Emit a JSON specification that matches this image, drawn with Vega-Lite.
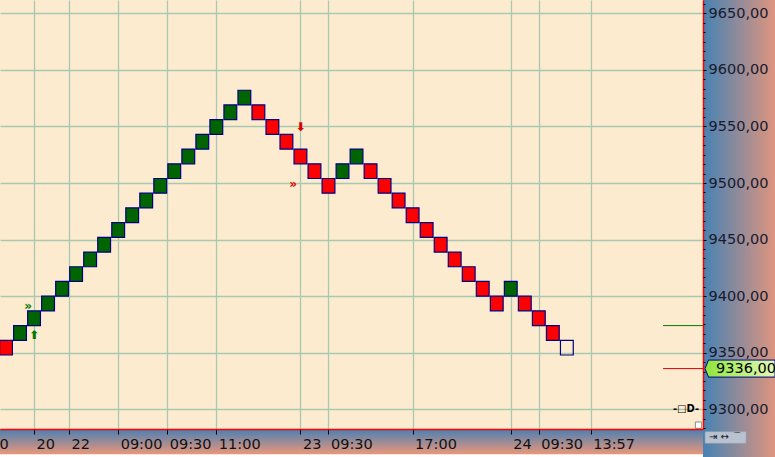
{
  "$schema": "https://vega.github.io/schema/vega-lite/v6.json",
  "width": 703,
  "height": 429,
  "autosize": "none",
  "padding": {"left": 0, "top": 0, "right": 72, "bottom": 28},
  "background": "#ffffff",
  "view": {"fill": "#fdebd0", "stroke": null},
  "config": {"font": "DejaVu Sans"},
  "data": {"values": [{}]},
  "datasets": {
    "bricks": [
      {"i": 0, "lo": 9348, "hi": 9361, "t": "down"},
      {"i": 1, "lo": 9361, "hi": 9374, "t": "up"},
      {"i": 2, "lo": 9374, "hi": 9387, "t": "up"},
      {"i": 3, "lo": 9387, "hi": 9400, "t": "up"},
      {"i": 4, "lo": 9400, "hi": 9413, "t": "up"},
      {"i": 5, "lo": 9413, "hi": 9426, "t": "up"},
      {"i": 6, "lo": 9426, "hi": 9439, "t": "up"},
      {"i": 7, "lo": 9439, "hi": 9452, "t": "up"},
      {"i": 8, "lo": 9452, "hi": 9465, "t": "up"},
      {"i": 9, "lo": 9465, "hi": 9478, "t": "up"},
      {"i": 10, "lo": 9478, "hi": 9491, "t": "up"},
      {"i": 11, "lo": 9491, "hi": 9504, "t": "up"},
      {"i": 12, "lo": 9504, "hi": 9517, "t": "up"},
      {"i": 13, "lo": 9517, "hi": 9530, "t": "up"},
      {"i": 14, "lo": 9530, "hi": 9543, "t": "up"},
      {"i": 15, "lo": 9543, "hi": 9556, "t": "up"},
      {"i": 16, "lo": 9556, "hi": 9569, "t": "up"},
      {"i": 17, "lo": 9569, "hi": 9582, "t": "up"},
      {"i": 18, "lo": 9556, "hi": 9569, "t": "down"},
      {"i": 19, "lo": 9543, "hi": 9556, "t": "down"},
      {"i": 20, "lo": 9530, "hi": 9543, "t": "down"},
      {"i": 21, "lo": 9517, "hi": 9530, "t": "down"},
      {"i": 22, "lo": 9504, "hi": 9517, "t": "down"},
      {"i": 23, "lo": 9491, "hi": 9504, "t": "down"},
      {"i": 24, "lo": 9504, "hi": 9517, "t": "up"},
      {"i": 25, "lo": 9517, "hi": 9530, "t": "up"},
      {"i": 26, "lo": 9504, "hi": 9517, "t": "down"},
      {"i": 27, "lo": 9491, "hi": 9504, "t": "down"},
      {"i": 28, "lo": 9478, "hi": 9491, "t": "down"},
      {"i": 29, "lo": 9465, "hi": 9478, "t": "down"},
      {"i": 30, "lo": 9452, "hi": 9465, "t": "down"},
      {"i": 31, "lo": 9439, "hi": 9452, "t": "down"},
      {"i": 32, "lo": 9426, "hi": 9439, "t": "down"},
      {"i": 33, "lo": 9413, "hi": 9426, "t": "down"},
      {"i": 34, "lo": 9400, "hi": 9413, "t": "down"},
      {"i": 35, "lo": 9387, "hi": 9400, "t": "down"},
      {"i": 36, "lo": 9400, "hi": 9413, "t": "up"},
      {"i": 37, "lo": 9387, "hi": 9400, "t": "down"},
      {"i": 38, "lo": 9374, "hi": 9387, "t": "down"},
      {"i": 39, "lo": 9361, "hi": 9374, "t": "down"},
      {"i": 40, "lo": 9348, "hi": 9361, "t": "open"}
    ],
    "signals": [
      {"i": 2, "v": 9366, "s": "⬆", "side": "buy"},
      {"i": 1.57, "v": 9391, "s": "»", "side": "buy"},
      {"i": 21, "v": 9549.5, "s": "⬇", "side": "sell"},
      {"i": 20.47, "v": 9499, "s": "»", "side": "sell"}
    ],
    "levels": [
      {"v": 9374, "kind": "high"},
      {"v": 9336, "kind": "last"}
    ]
  },
  "resolve": {"axis": {"x": "independent", "y": "independent"}},
  "layer": [
    {
      "mark": {"type": "rect", "fill": {"gradient": "linear", "x1": 0, "y1": 0, "x2": 1, "y2": 0, "stops": [{"offset": 0, "color": "#4682b4"}, {"offset": 1, "color": "#e9967a"}]}},
      "encoding": {
        "x": {"datum": 49.71, "type": "quantitative", "scale": {"domain": [-0.428, 49.71], "nice": false, "zero": false, "padding": 0}, "axis": null},
        "x2": {"datum": 55.2},
        "y": {"datum": 9250, "type": "quantitative", "scale": {"domain": [9282.6, 9661.75], "nice": false, "zero": false, "padding": 0}, "axis": null},
        "y2": {"datum": 9670}
      }
    },
    {
      "mark": {"type": "rect", "fill": {"gradient": "linear", "x1": 0, "y1": 0, "x2": 0, "y2": 1, "stops": [{"offset": 0, "color": "#4a7fb2"}, {"offset": 1, "color": "#e9977b"}]}},
      "encoding": {
        "x": {"datum": -0.6, "type": "quantitative", "scale": {"domain": [-0.428, 49.71], "nice": false, "zero": false, "padding": 0}, "axis": null},
        "x2": {"datum": 49.71},
        "y": {"datum": 9282.6, "type": "quantitative", "scale": {"domain": [9282.6, 9661.75], "nice": false, "zero": false, "padding": 0}, "axis": null},
        "y2": {"datum": 9260.3}
      }
    },
    {
      "data": {"name": "bricks"},
      "mark": {"type": "bar", "width": 12.8, "stroke": "#000080", "strokeWidth": 1.2},
      "encoding": {
        "x": {
          "field": "i", "type": "quantitative",
          "scale": {"domain": [-0.428, 49.71], "nice": false, "zero": false, "padding": 0},
          "axis": {
            "orient": "bottom", "title": null, "zindex": 0,
            "values": [2, 4.5, 8, 11.5, 15, 21, 23, 29, 36, 38, 41.7],
            "grid": true, "gridColor": "#a9c8b0", "gridWidth": 1.3, "gridOpacity": 1,
            "labels": false, "ticks": false, "domain": false
          }
        },
        "y": {
          "field": "lo", "type": "quantitative",
          "scale": {"domain": [9282.6, 9661.75], "nice": false, "zero": false, "padding": 0},
          "axis": {
            "orient": "right", "title": null, "zindex": 0,
            "values": [9300, 9350, 9400, 9450, 9500, 9550, 9600, 9650],
            "grid": true, "gridColor": "#a9c8b0", "gridWidth": 1.3, "gridOpacity": 1,
            "labels": false, "ticks": false, "domain": false
          }
        },
        "y2": {"field": "hi"},
        "fill": {"field": "t", "type": "nominal", "scale": {"domain": ["up", "down", "open"], "range": ["#006400", "#ff0000", "rgba(0,0,0,0)"]}, "legend": null}
      }
    },
    {
      "data": {"name": "signals"},
      "mark": {"type": "text", "fontSize": 12, "fontWeight": "bold", "align": "center", "baseline": "middle"},
      "encoding": {
        "x": {
          "field": "i", "type": "quantitative",
          "scale": {"domain": [-0.428, 49.71], "nice": false, "zero": false, "padding": 0},
          "axis": {
            "orient": "bottom", "title": null, "zindex": 1, "grid": false,
            "values": [-0.42, 2, 4.5, 8, 11.5, 15, 21, 23, 29, 36, 38, 41.7],
            "labelExpr": "['0','20','22','09:00','09:30','11:00','23','09:30','17:00','24','09:30','13:57'][indexof([-0.42,2,4.5,8,11.5,15,21,23,29,36,38,41.7], datum.value)]",
            "domainColor": "#ff0000", "domainWidth": 1.5,
            "tickColor": "#000000", "tickSize": 5, "tickWidth": 1,
            "tickOpacity": {"condition": {"test": "datum.value < 0", "value": 0}, "value": 1},
            "labelAlign": "left", "labelBaseline": "top", "labelPadding": 3,
            "labelOffset": {"condition": {"test": "datum.value < 0", "value": -1}, "value": 2},
            "labelFont": "DejaVu Sans", "labelFontSize": 14.5, "labelColor": "#111111",
            "labelFlush": false, "labelOverlap": false, "labelBound": false
          }
        },
        "y": {
          "field": "v", "type": "quantitative",
          "scale": {"domain": [9282.6, 9661.75], "nice": false, "zero": false, "padding": 0},
          "axis": {
            "orient": "right", "title": null, "zindex": 1, "grid": false,
            "values": [9300, 9350, 9400, 9450, 9500, 9550, 9600, 9650],
            "labelExpr": "replace(format(datum.value, '.2f'), '.', ',')",
            "domainColor": "#ff0000", "domainWidth": 1.5,
            "tickColor": "#000000", "tickSize": 3, "tickWidth": 1,
            "labelPadding": 2, "labelBaseline": "middle",
            "labelFont": "DejaVu Sans", "labelFontSize": 14.5, "labelColor": "#1a1a2e",
            "labelFlush": false, "labelOverlap": false, "labelBound": false
          }
        },
        "text": {"field": "s"},
        "color": {"field": "side", "type": "nominal", "scale": {"domain": ["buy", "sell"], "range": ["#007a00", "#dd0000"]}, "legend": null}
      }
    },
    {
      "data": {"name": "levels"},
      "mark": {"type": "rule", "strokeWidth": 1},
      "encoding": {
        "x": {"datum": 46.86, "type": "quantitative", "scale": {"domain": [-0.428, 49.71], "nice": false, "zero": false, "padding": 0}, "axis": null},
        "x2": {"datum": 49.71},
        "y": {
          "field": "v", "type": "quantitative",
          "scale": {"domain": [9282.6, 9661.75], "nice": false, "zero": false, "padding": 0},
          "axis": {
            "orient": "right", "title": null, "zindex": 1,
            "values": [9283.33, 9291.67, 9300, 9308.33, 9316.67, 9325, 9333.33, 9341.67, 9350, 9358.33, 9366.67, 9375, 9383.33, 9391.67, 9400, 9408.33, 9416.67, 9425, 9433.33, 9441.67, 9450, 9458.33, 9466.67, 9475, 9483.33, 9491.67, 9500, 9508.33, 9516.67, 9525, 9533.33, 9541.67, 9550, 9558.33, 9566.67, 9575, 9583.33, 9591.67, 9600, 9608.33, 9616.67, 9625, 9633.33, 9641.67, 9650, 9658.33],
            "labels": false, "domain": false, "grid": false,
            "tickColor": "#000000", "tickSize": 2, "tickWidth": 1
          }
        },
        "color": {"field": "kind", "type": "nominal", "scale": {"domain": ["high", "last"], "range": ["#008000", "#ff0000"]}, "legend": null}
      }
    },
    {
      "mark": {"type": "point", "filled": true, "shape": "M -1 0 L -0.9 -0.243 L 1 -0.243 L 1 0.243 L -0.9 0.243 Z", "size": 4900, "stroke": "#000080", "strokeWidth": 1, "opacity": 1, "fill": {"gradient": "linear", "x1": 0, "y1": 0, "x2": 1, "y2": 0, "stops": [{"offset": 0, "color": "#8ee63a"}, {"offset": 1, "color": "#e2f8b8"}]}},
      "encoding": {
        "x": {"datum": 52.35, "type": "quantitative", "scale": {"domain": [-0.428, 49.71], "nice": false, "zero": false, "padding": 0}, "axis": null},
        "y": {"datum": 9336, "type": "quantitative", "scale": {"domain": [9282.6, 9661.75], "nice": false, "zero": false, "padding": 0}, "axis": null}
      }
    },
    {
      "mark": {"type": "text", "align": "left", "baseline": "middle", "fontSize": 14.5, "font": "DejaVu Sans", "color": "#000000"},
      "encoding": {
        "x": {"datum": 50.64, "type": "quantitative", "scale": {"domain": [-0.428, 49.71], "nice": false, "zero": false, "padding": 0}, "axis": null},
        "y": {"datum": 9336, "type": "quantitative", "scale": {"domain": [9282.6, 9661.75], "nice": false, "zero": false, "padding": 0}, "axis": null},
        "text": {"value": "9336,00"}
      }
    },
    {
      "mark": {"type": "text", "align": "center", "baseline": "middle", "fontSize": 10, "fontWeight": "bold", "color": "#000000"},
      "encoding": {
        "x": {"datum": 48.5, "type": "quantitative", "scale": {"domain": [-0.428, 49.71], "nice": false, "zero": false, "padding": 0}, "axis": null},
        "y": {"datum": 9300, "type": "quantitative", "scale": {"domain": [9282.6, 9661.75], "nice": false, "zero": false, "padding": 0}, "axis": null},
        "text": {"value": "-□D-"}
      }
    },
    {
      "mark": {"type": "rect", "fill": "#b9c2cf", "stroke": "#9aa4b4", "strokeWidth": 0.5},
      "encoding": {
        "x": {"datum": 49.86, "type": "quantitative", "scale": {"domain": [-0.428, 49.71], "nice": false, "zero": false, "padding": 0}, "axis": null},
        "x2": {"datum": 52.78},
        "y": {"datum": 9270, "type": "quantitative", "scale": {"domain": [9282.6, 9661.75], "nice": false, "zero": false, "padding": 0}, "axis": null},
        "y2": {"datum": 9280.2}
      }
    },
    {
      "mark": {"type": "text", "align": "center", "baseline": "middle", "fontSize": 10, "color": "#1a1a2e"},
      "encoding": {
        "x": {"datum": 51.32, "type": "quantitative", "scale": {"domain": [-0.428, 49.71], "nice": false, "zero": false, "padding": 0}, "axis": null},
        "y": {"datum": 9275.1, "type": "quantitative", "scale": {"domain": [9282.6, 9661.75], "nice": false, "zero": false, "padding": 0}, "axis": null},
        "text": {"value": "⇥ ↔ ⌒"}
      }
    },
    {
      "mark": {"type": "point", "shape": "square", "filled": true, "size": 40, "fill": "#ffffff", "stroke": "#8a8a8a", "strokeWidth": 1, "opacity": 1},
      "encoding": {
        "x": {"datum": 49.39, "type": "quantitative", "scale": {"domain": [-0.428, 49.71], "nice": false, "zero": false, "padding": 0}, "axis": null},
        "y": {"datum": 9286, "type": "quantitative", "scale": {"domain": [9282.6, 9661.75], "nice": false, "zero": false, "padding": 0}, "axis": null}
      }
    }
  ]
}
